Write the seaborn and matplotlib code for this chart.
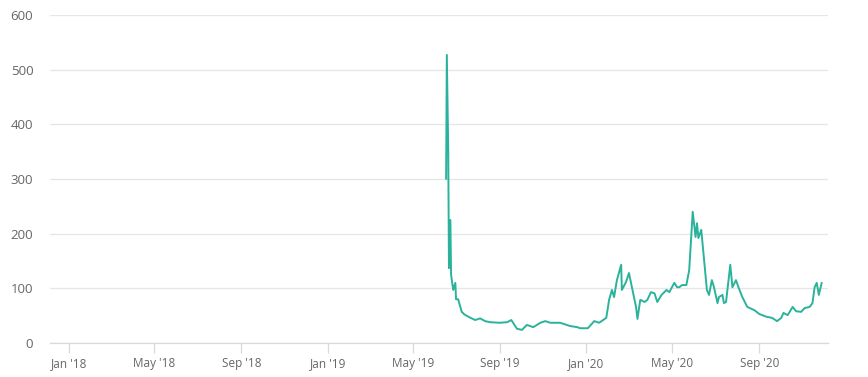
import pandas as pd
import matplotlib
matplotlib.use('agg')
import matplotlib.pyplot as plt
import matplotlib.dates as mdates
import seaborn as sns

# values
dates = ["2019-06-17", "2019-06-18", "2019-06-20", "2019-06-21", "2019-06-23",
         "2019-06-24", "2019-06-27", "2019-06-30", "2019-07-01", "2019-07-04",
         "2019-07-09", "2019-07-13", "2019-07-20", "2019-07-28", "2019-08-04",
         "2019-08-11", "2019-08-18", "2019-09-01", "2019-09-11", "2019-09-17",
         "2019-09-25", "2019-10-02", "2019-10-09", "2019-10-18", "2019-10-28",
         "2019-11-04", "2019-11-11", "2019-11-25", "2019-12-09", "2019-12-19",
         "2019-12-23", "2020-01-03", "2020-01-12", "2020-01-19", "2020-01-29",
         "2020-02-02", "2020-02-06", "2020-02-09", "2020-02-13", "2020-02-19",
         "2020-02-20", "2020-02-26", "2020-03-01", "2020-03-06", "2020-03-11",
         "2020-03-13", "2020-03-17", "2020-03-23", "2020-03-27", "2020-04-01",
         "2020-04-06", "2020-04-10", "2020-04-16", "2020-04-23", "2020-04-27",
         "2020-05-04", "2020-05-08", "2020-05-11", "2020-05-15", "2020-05-21",
         "2020-05-25", "2020-05-30", "2020-06-03", "2020-06-05", "2020-06-07",
         "2020-06-11", "2020-06-12", "2020-06-19", "2020-06-22", "2020-06-26",
         "2020-06-29", "2020-07-04", "2020-07-06", "2020-07-11", "2020-07-13",
         "2020-07-16", "2020-07-22", "2020-07-25", "2020-07-30", "2020-08-04",
         "2020-08-08", "2020-08-15", "2020-08-25", "2020-09-01", "2020-09-11",
         "2020-09-19", "2020-09-26", "2020-10-02", "2020-10-05", "2020-10-11",
         "2020-10-18", "2020-10-23", "2020-10-30", "2020-11-04", "2020-11-11",
         "2020-11-15", "2020-11-18", "2020-11-21", "2020-11-24", "2020-11-28"]
values = [300, 527, 350, 137, 225,
          125, 97, 110, 80, 80,
          57, 52, 47, 42, 45,
          40, 38, 37, 38, 42,
          26, 24, 33, 29, 37,
          40, 37, 37, 31, 29,
          27, 27, 40, 37, 46,
          79, 97, 84, 115, 143,
          97, 112, 128, 97, 66,
          44, 79, 75, 79, 93,
          91, 75, 88, 97, 93,
          110, 102, 102, 106, 106,
          133, 240, 194, 219, 192,
          207, 194, 97, 88, 115,
          102, 73, 84, 88, 73,
          75, 143, 102, 115, 97,
          84, 66, 60, 53, 48,
          46, 40, 46, 55, 51,
          66, 58, 57, 64, 66,
          73, 102, 110, 88, 110]
y_ticks = [0, 100, 200, 300, 400, 500, 600]

df = pd.DataFrame({"date": pd.to_datetime(dates), "value": values})

sns.set_style("white")
plt.rcParams['font.family'] = ['Open Sans', 'DejaVu Sans']

fig = plt.figure(figsize=(8.68, 3.77), dpi=100)
ax = fig.add_axes([0.0576, 0.0902, 0.8964, 0.8700])

sns.lineplot(data=df, x="date", y="value", ax=ax, color="#2ab39a", linewidth=1.4)

ax.set_xlim(pd.Timestamp("2017-12-05"), pd.Timestamp("2020-12-07"))
ax.set_ylim(0, 600)
ax.set_yticks(y_ticks)
ax.yaxis.grid(True, color="#e6e6e6", linewidth=0.9)
ax.set_axisbelow(True)

ax.xaxis.set_major_locator(mdates.MonthLocator(bymonth=[1, 5, 9]))
ax.xaxis.set_major_formatter(mdates.DateFormatter("%b '%y"))

for s in ["top", "right", "left"]:
    ax.spines[s].set_visible(False)
ax.spines["bottom"].set_color("#d9d9d9")
ax.spines["bottom"].set_linewidth(0.9)

ax.tick_params(axis="x", colors="#d9d9d9", length=7, width=0.9, labelcolor="#666666",
               labelsize=8.5, pad=3, direction="out", bottom=True)
ax.tick_params(axis="y", length=0, labelcolor="#666666", labelsize=9.5, pad=12)
for lab in ax.get_yticklabels():
    lab.set_horizontalalignment("right")

ax.set_xlabel("")
ax.set_ylabel("")

plt.savefig("out.png", dpi=100)
